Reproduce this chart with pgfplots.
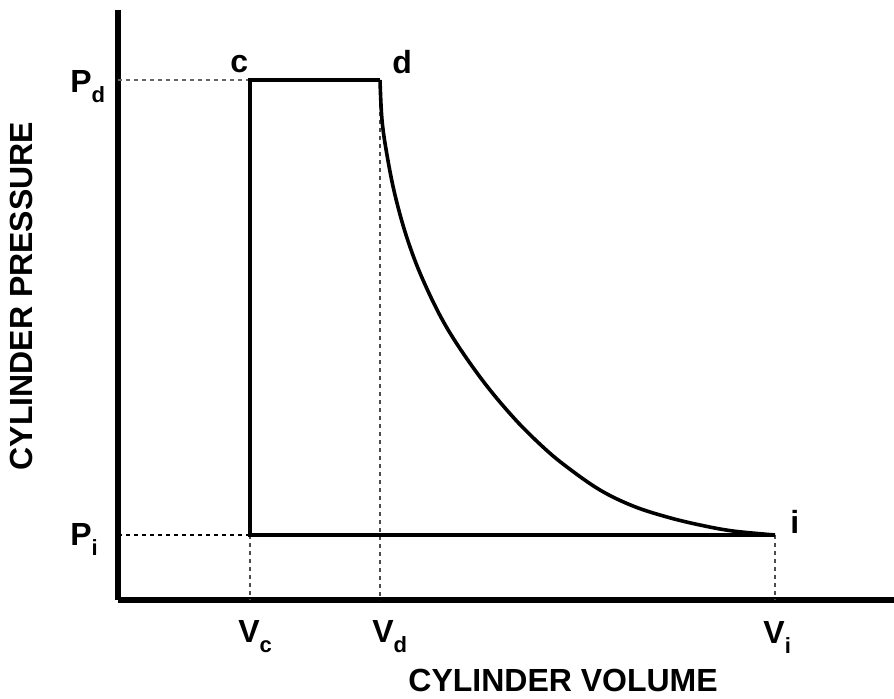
\documentclass[border=0pt]{standalone}
\usepackage{fontspec}
\setmainfont{Liberation Sans}
\usepackage{pgfplots}
\pgfplotsset{compat=1.18}
\newcommand{\sub}[1]{\raisebox{-5.2pt}{\fontsize{11}{11}\selectfont #1}}
\begin{document}
\begin{tikzpicture}[x=1pt,y=1pt]
\path[use as bounding box] (-59pt,-49pt) rectangle (388pt,300pt);
\begin{axis}[
  at={(0pt,0pt)}, anchor=origin,
  scale only axis, width=388pt, height=295pt,
  xmin=0, xmax=776, ymin=0, ymax=590,
  axis lines=left, axis line style={-, line width=2.6pt, black},
  xtick=\empty, ytick=\empty,
  clip=false,
  font=\fontsize{16}{18}\selectfont\bfseries,
]
% dashed guide lines
\addplot[black!60, line width=0.6pt, dash pattern=on 2pt off 2pt] coordinates {(0,520) (132,520)};
\addplot[black, line width=0.6pt, dash pattern=on 2pt off 2pt] coordinates {(0,65) (132,65)};
\addplot[black!70, line width=0.6pt, dash pattern=on 2pt off 2pt] coordinates {(132,65) (132,0)};
\addplot[black!70, line width=0.6pt, dash pattern=on 2pt off 2pt] coordinates {(262,520) (262,0)};
\addplot[black!70, line width=0.6pt, dash pattern=on 2pt off 2pt] coordinates {(657,65) (657,0)};
% cycle
\addplot[black, line width=1.6pt] coordinates {(657,65) (132,65) (132,520) (262,520)};
\addplot[black, line width=1.8pt, smooth, tension=0.6] coordinates {
(262,520) (264,480) (269,445) (277,405) (289,362) (305,320) (329,272)
(362,223) (395,183) (425,153) (449,133) (482,110) (515,94) (549,83)
(582,75) (615,69) (657,65)};
% labels
\begin{scope}[every node/.style={inner sep=0pt}]
\node[anchor=base west] at (axis cs:112,528) {c};
\node[anchor=base west] at (axis cs:274,527) {d};
\node[anchor=base west] at (axis cs:672,67) {i};
\node[anchor=base west] at (axis cs:-48,508) {P\sub{d}};
\node[anchor=base west] at (axis cs:-48,55) {P\sub{i}};
\node[anchor=base west] at (axis cs:120,-42) {V\sub{c}};
\node[anchor=base west] at (axis cs:254,-42) {V\sub{d}};
\node[anchor=base west] at (axis cs:645,-43) {V\sub{i}};
\node[anchor=base west] at (axis cs:290,-91) {CYLINDER VOLUME};
\node[rotate=90, anchor=base] at (axis cs:-85,304) {CYLINDER PRESSURE};
\end{scope}
\end{axis}
\end{tikzpicture}
\end{document}
